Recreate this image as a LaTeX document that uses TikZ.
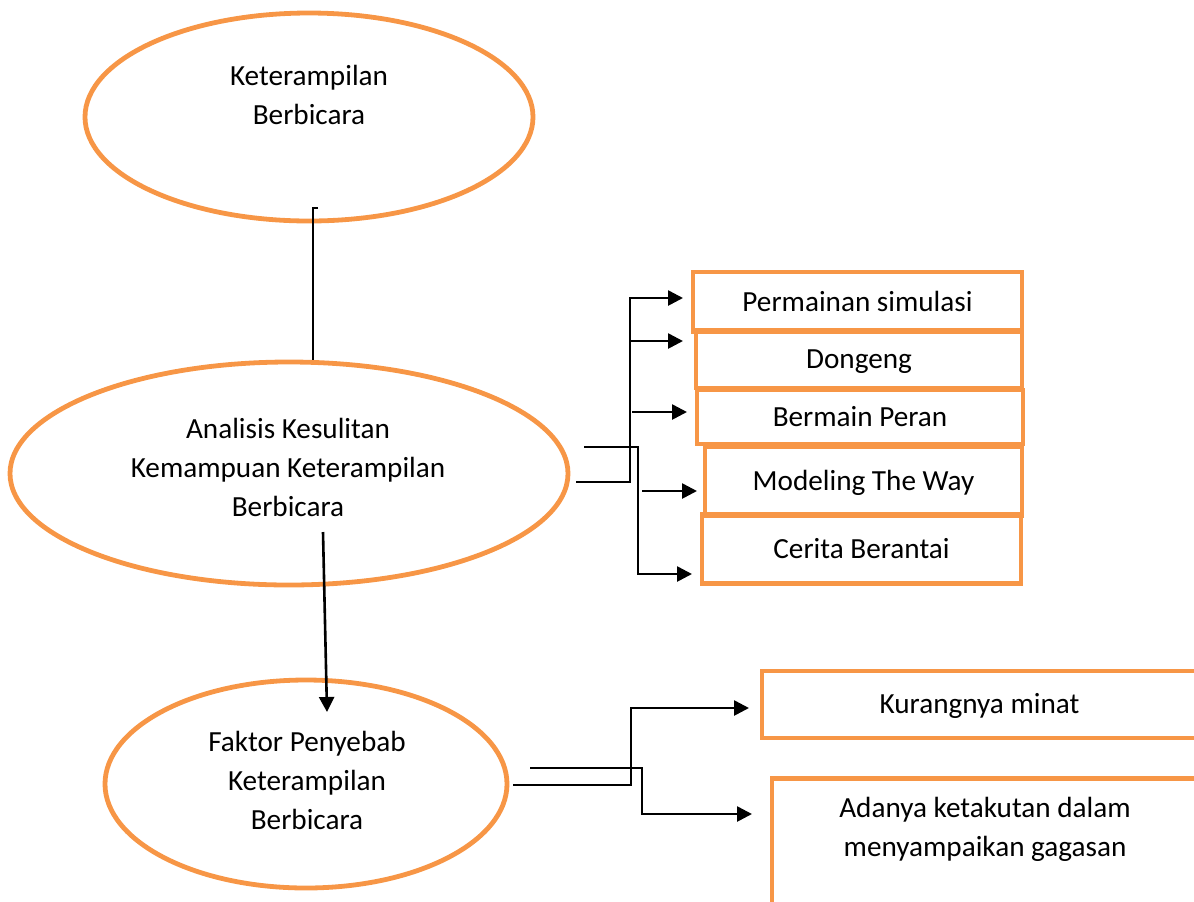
\documentclass[tikz,border=0pt]{standalone}
\usepackage{fontspec}
\setmainfont{Carlito}
\usetikzlibrary{shapes.geometric,arrows.meta}
\definecolor{accent}{HTML}{F79646}

\begin{document}
\begin{tikzpicture}[
                        x = 0.5pt,
                        y = -0.5pt,
                        link/.style = {draw = black, line width = 1.3pt},
                        arrow/.style = {link, -{Triangle[length=7.5pt,width=7.5pt]}}
                        ]

                        \tikzstyle{words}=[
                                align = center,
                                inner sep = 0pt,
                                font = \fontsize{14.6}{19.5}\selectfont
                        ]
                        \tikzstyle{bubble}=[
                                words,
                                draw = accent,
                                ellipse,
                                line width = 2.4pt
                        ]
                        \tikzstyle{box}=[
                                words,
                                draw = accent,
                                rectangle,
                                line width = 2.4pt,
                                text height = 9.3pt,
                                text depth = 0pt
                        ]

                        \useasboundingbox (0,0) rectangle (1194,901);
                        \clip (0,0) rectangle (1194,901);

                        % ellipses
                        \node[bubble, minimum width=224pt, minimum height=104pt] (skill) at (309,117) {};
                        \node[words] (skilltext) at (309,95) {Keterampilan\\Berbicara};
                        \node[bubble, minimum width=279pt, minimum height=111.5pt] (analisis) at (289,473.5) {};
                        \node[words] (analisistext) at (288,467) {Analisis Kesulitan\\Kemampuan Keterampilan\\Berbicara};
                        \node[bubble, minimum width=201pt, minimum height=104pt] (faktor) at (306,784) {};
                        \node[words] (faktortext) at (307,780) {Faktor Penyebab\\Keterampilan\\Berbicara};

                        % boxes
                        \node[box, minimum width=164.5pt, minimum height=30pt] (sim) at (857.5,302) {Permainan simulasi};
                        \node[box, minimum width=163pt, minimum height=29pt] (dongeng) at (859,359) {Dongeng};
                        \node[box, minimum width=163pt, minimum height=27pt] (peran) at (860,417) {Bermain Peran};
                        \node[box, minimum width=158.5pt, minimum height=34.5pt] (model) at (863.5,481) {Modeling The Way};
                        \node[box, minimum width=159.5pt, minimum height=34.5pt] (cerita) at (861.5,549) {Cerita Berantai};
                        \node[box, minimum width=217.5pt, minimum height=33.5pt] (minat) at (979.5,704.5) {Kurangnya minat};
                        \node[box, minimum width=213pt, minimum height=150pt, anchor=north] (takut) at (985,776) {};
                        \node[words] (takuttext) at (985,829) {Adanya ketakutan dalam\\menyampaikan gagasan};

                        % connectors
                        \coordinate (tickA) at (318,208);
                        \coordinate (tickB) at (313,208);
                        \draw[link] (tickA) -- (tickB) -- (tickB |- analisis.north);

                        \coordinate (downA) at (323,532);
                        \coordinate (downB) at (327,712);
                        \draw[arrow] (downA) -- (downB);

                        \coordinate (outA) at (576,482);
                        \coordinate (forkA) at (630,482);
                        \coordinate (outB) at (584,447);
                        \coordinate (forkB) at (638,447);
                        \coordinate (tipSim) at (683,298);
                        \coordinate (tipDongeng) at (683,341);
                        \coordinate (tipPeran) at (687,412);
                        \coordinate (tipModel) at (697,491);
                        \coordinate (tipCerita) at (692,574);
                        \draw[arrow] (outA) -- (forkA) |- (tipSim);
                        \draw[arrow] (tipDongeng -| forkA) -- (tipDongeng);
                        \draw[arrow] ([xshift=1pt]tipPeran -| forkA) -- (tipPeran);
                        \draw[arrow] (outB) -- (forkB) |- (tipCerita);
                        \draw[arrow] ([xshift=2pt]tipModel -| forkB) -- (tipModel);

                        \coordinate (outC) at (513,785);
                        \coordinate (forkC) at (631,785);
                        \coordinate (outD) at (530,768);
                        \coordinate (forkD) at (642,768);
                        \coordinate (tipMinat) at (749,708);
                        \coordinate (tipTakut) at (752,814);
                        \draw[arrow] (outC) -- (forkC) |- (tipMinat);
                        \draw[arrow] (outD) -- (forkD) |- (tipTakut);
                \end{tikzpicture}
\end{document}
